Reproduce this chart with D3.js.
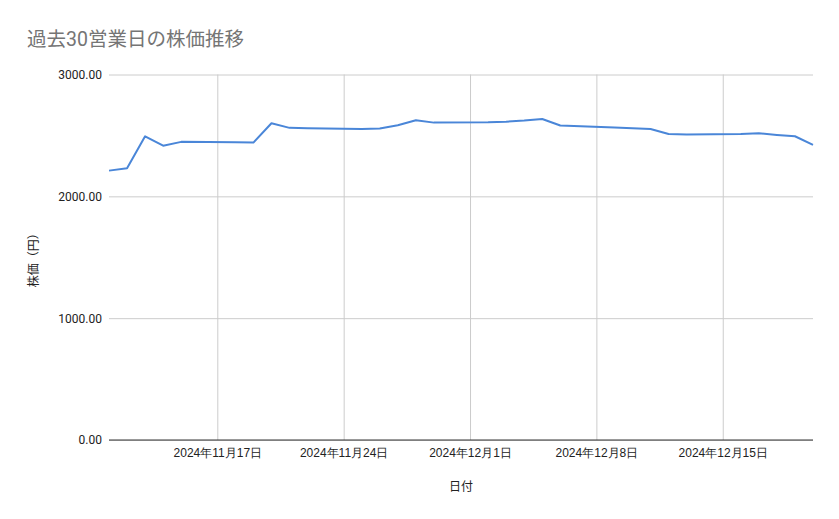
<!DOCTYPE html>
<html>
<head>
<meta charset="utf-8">
<script src="https://cdn.jsdelivr.net/npm/d3@7"></script>
<style>
  body { margin: 0; background: #fff; }
  svg { font-family: Roboto, "Noto Sans CJK JP", sans-serif; }
</style>
</head>
<body>
<svg id="chart" width="839" height="519"></svg>
<script>
// 過去30営業日の終値
var dates = [
  "2024-11-11", "2024-11-12", "2024-11-13", "2024-11-14", "2024-11-15",
  "2024-11-18", "2024-11-19", "2024-11-20", "2024-11-21", "2024-11-22",
  "2024-11-25", "2024-11-26", "2024-11-27", "2024-11-28", "2024-11-29",
  "2024-12-02", "2024-12-03", "2024-12-04", "2024-12-05", "2024-12-06",
  "2024-12-09", "2024-12-10", "2024-12-11", "2024-12-12", "2024-12-13",
  "2024-12-16", "2024-12-17", "2024-12-18", "2024-12-19", "2024-12-20"
];
var prices = [
  2211, 2230, 2493, 2416, 2447,
  2444, 2441, 2600, 2562, 2559,
  2553, 2556, 2583, 2625, 2605,
  2608, 2613, 2622, 2635, 2581,
  2566, 2558, 2553, 2512, 2507,
  2512, 2518, 2504, 2493, 2422
];
var xTicks = ["2024-11-17", "2024-11-24", "2024-12-01", "2024-12-08", "2024-12-15"];
var yTicks = [0, 1000, 2000, 3000];

var parse = d3.timeParse("%Y-%m-%d");
var data = dates.map(function(d, i) { return { date: parse(d), value: prices[i] }; });

var svg = d3.select("#chart");
var margin = { left: 109, right: 26, top: 74.5, bottom: 79 };
var width = 839 - margin.left - margin.right;
var height = 519 - margin.top - margin.bottom;

var x = d3.scaleTime()
    .domain(d3.extent(data, function(d) { return d.date; }))
    .range([0, width]);
var y = d3.scaleLinear().domain([0, 3000]).range([height, 0]);

var g = svg.append("g").attr("transform", "translate(" + margin.left + "," + margin.top + ")");

// title
svg.append("text")
    .attr("x", 27).attr("y", 46)
    .attr("font-size", 19.5)
    .attr("fill", "#757575")
    .text("過去30営業日の株価推移");

// horizontal grid + y labels
var yAxis = g.append("g")
    .call(d3.axisLeft(y).tickValues(yTicks).tickSize(-width).tickPadding(7)
        .tickFormat(d3.format(".2f")));
yAxis.select(".domain").remove();
yAxis.selectAll(".tick line").attr("stroke", "#cccccc");
yAxis.selectAll(".tick text").attr("font-size", 12).attr("fill", "#222")
    .attr("font-family", "Roboto, sans-serif");

// vertical grid + x labels
var fmt = d3.timeFormat("%Y年%-m月%-d日");
var xAxis = g.append("g")
    .attr("transform", "translate(0," + height + ")")
    .call(d3.axisBottom(x).tickValues(xTicks.map(parse)).tickSize(-height).tickPadding(8)
        .tickFormat(fmt));
xAxis.select(".domain").remove();
xAxis.selectAll(".tick line").attr("stroke", "#cccccc");
xAxis.selectAll(".tick text").attr("font-size", 12).attr("fill", "#222");

// baseline
g.append("line")
    .attr("x1", 0).attr("x2", width)
    .attr("y1", y(0)).attr("y2", y(0))
    .attr("stroke", "#333").attr("stroke-width", 1);

// line
var line = d3.line()
    .x(function(d) { return x(d.date); })
    .y(function(d) { return y(d.value); });

g.append("path")
    .datum(data)
    .attr("fill", "none")
    .attr("stroke", "#4a86d8")
    .attr("stroke-width", 2)
    .attr("stroke-linejoin", "round")
    .attr("d", line);

// axis titles
svg.append("text")
    .attr("x", margin.left + width / 2).attr("y", 491)
    .attr("text-anchor", "middle")
    .attr("font-size", 12).attr("fill", "#222")
    .text("日付");

svg.append("text")
    .attr("transform", "translate(38," + (margin.top + height / 2) + ") rotate(-90)")
    .attr("text-anchor", "middle")
    .attr("font-size", 12).attr("fill", "#222")
    .text("株価（円）");
</script>
</body>
</html>
